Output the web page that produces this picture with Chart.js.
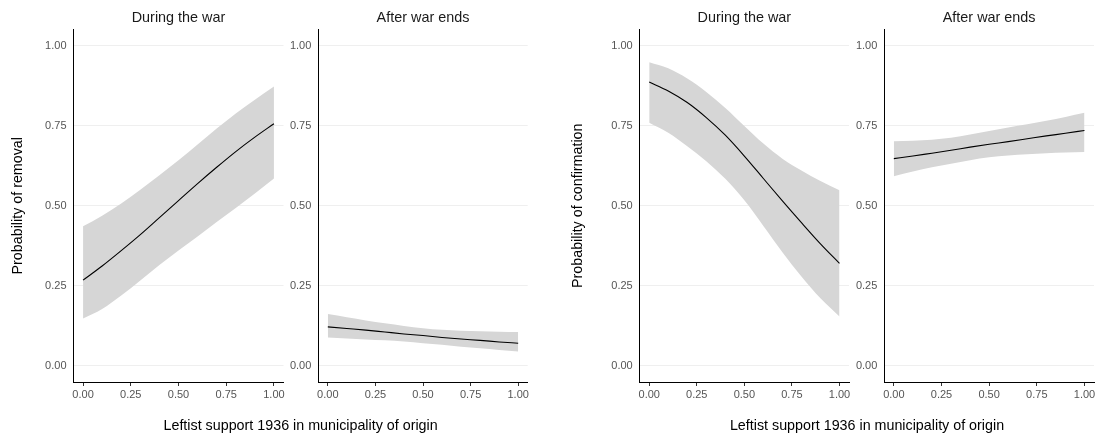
<!DOCTYPE html>
<html>
<head>
<meta charset="utf-8">
<script src="https://cdn.jsdelivr.net/npm/chart.js@4"></script>
<style>
  body { margin: 0; background: #fff; width: 1101px; height: 441px; position: relative; overflow: hidden; }
  canvas { position: absolute; top: 0; }
  .xtitle { position: absolute; top: 416.5px; line-height: 17px; font: 14.3px "Liberation Sans", Arial, sans-serif; color: #000; white-space: nowrap; transform: translateX(-50%); }
</style>
</head>
<body>
<canvas id="p1" width="305" height="441" style="left:0px"></canvas>
<canvas id="p2" width="260" height="441" style="left:290px"></canvas>
<canvas id="p3" width="310" height="441" style="left:560px"></canvas>
<canvas id="p4" width="246" height="441" style="left:855px"></canvas>
<div class="xtitle" style="left:300.6px">Leftist support 1936 in municipality of origin</div>
<div class="xtitle" style="left:867px">Leftist support 1936 in municipality of origin</div>
<script>
// x values shared by every panel
const support = [0, 0.1, 0.2, 0.3, 0.4, 0.5, 0.6, 0.7, 0.8, 0.9, 1.0];
const tickVals = [0, 0.25, 0.5, 0.75, 1];

// removal, during the war
const removalWarFit   = [0.268, 0.312, 0.360, 0.410, 0.463, 0.516, 0.569, 0.620, 0.669, 0.714, 0.756];
const removalWarHigh  = [0.436, 0.469, 0.507, 0.550, 0.595, 0.642, 0.691, 0.741, 0.788, 0.831, 0.872];
const removalWarLow   = [0.148, 0.178, 0.220, 0.267, 0.315, 0.360, 0.404, 0.449, 0.493, 0.538, 0.585];

// removal, after war ends
const removalPostFit  = [0.122, 0.117, 0.112, 0.106, 0.100, 0.095, 0.089, 0.084, 0.080, 0.075, 0.071];
const removalPostHigh = [0.162, 0.152, 0.142, 0.133, 0.125, 0.118, 0.113, 0.110, 0.108, 0.107, 0.106];
const removalPostLow  = [0.089, 0.086, 0.083, 0.080, 0.076, 0.071, 0.066, 0.060, 0.055, 0.050, 0.045];

// confirmation, during the war
const confirmWarFit   = [0.886, 0.858, 0.822, 0.775, 0.720, 0.655, 0.585, 0.515, 0.447, 0.381, 0.320];
const confirmWarHigh  = [0.948, 0.929, 0.897, 0.855, 0.805, 0.749, 0.694, 0.647, 0.610, 0.577, 0.548];
const confirmWarLow   = [0.759, 0.728, 0.686, 0.639, 0.584, 0.517, 0.437, 0.355, 0.279, 0.211, 0.154];

// confirmation, after war ends
const confirmPostFit  = [0.647, 0.655, 0.664, 0.673, 0.683, 0.692, 0.700, 0.709, 0.718, 0.726, 0.735];
const confirmPostHigh = [0.701, 0.703, 0.706, 0.712, 0.722, 0.733, 0.744, 0.754, 0.765, 0.777, 0.790];
const confirmPostLow  = [0.592, 0.607, 0.620, 0.631, 0.642, 0.651, 0.657, 0.661, 0.664, 0.666, 0.668];

const FONT = '"Liberation Sans", Arial, Helvetica, sans-serif';
const pts = ys => support.map((x, i) => ({ x: x, y: ys[i] }));

function makePanel(id, title, yTitle, yWidth, padRight, fit, high, low) {
  new Chart(document.getElementById(id), {
    type: 'line',
    data: {
      // first dataset is drawn on top, so the fitted line goes first
      datasets: [
        { data: pts(fit), fill: false, borderColor: '#000', borderWidth: 1.1, pointRadius: 0, cubicInterpolationMode: 'monotone' },
        { data: pts(high), fill: '+1', backgroundColor: '#d6d6d6', borderWidth: 0, pointRadius: 0, cubicInterpolationMode: 'monotone' },
        { data: pts(low), fill: false, borderWidth: 0, pointRadius: 0, cubicInterpolationMode: 'monotone' }
      ]
    },
    options: {
      responsive: false,
      animation: false,
      layout: { padding: { left: 0, right: padRight, top: 0, bottom: 0 } },
      plugins: {
        legend: { display: false },
        tooltip: { enabled: false },
        title: { display: true, fullSize: false, text: title, color: '#1a1a1a', font: { family: FONT, size: 14.4, weight: 'normal' }, padding: { top: 8.9, bottom: 3.3 } }
      },
      scales: {
        x: {
          type: 'linear', min: -0.05, max: 1.05,
          afterBuildTicks: s => { s.ticks = tickVals.map(v => ({ value: v })); },
          afterFit: s => { s.height = 59; },
          grid: { display: true, drawOnChartArea: false, drawTicks: true, tickLength: 4, color: '#333', lineWidth: 1 },
          border: { display: true, color: '#000', width: 1 },
          ticks: { padding: 2, color: '#555', font: { family: FONT, size: 11 }, maxRotation: 0, callback: v => v.toFixed(2) }
        },
        y: {
          type: 'linear', min: -0.05, max: 1.05,
          afterBuildTicks: s => { s.ticks = tickVals.map(v => ({ value: v })); },
          afterFit: s => { s.width = yWidth; },
          grid: { color: '#efefef', lineWidth: 1, drawTicks: false },
          border: { display: true, color: '#000', width: 1 },
          ticks: { padding: 7, color: '#555', font: { family: FONT, size: 11 }, callback: v => v.toFixed(2) },
          title: { display: !!yTitle, text: yTitle, color: '#000', font: { family: FONT, size: 14.3 }, padding: { top: 9, bottom: 0 } }
        }
      }
    }
  });
}

makePanel('p1', 'During the war', 'Probability of removal', 73.5, 21.5, removalWarFit, removalWarHigh, removalWarLow);
makePanel('p2', 'After war ends', '', 28.3, 22.3, removalPostFit, removalPostHigh, removalPostLow);
makePanel('p3', 'During the war', 'Probability of confirmation', 79.7, 21, confirmWarFit, confirmWarHigh, confirmWarLow);
makePanel('p4', 'After war ends', '', 29.3, 7, confirmPostFit, confirmPostHigh, confirmPostLow);
</script>
</body>
</html>
